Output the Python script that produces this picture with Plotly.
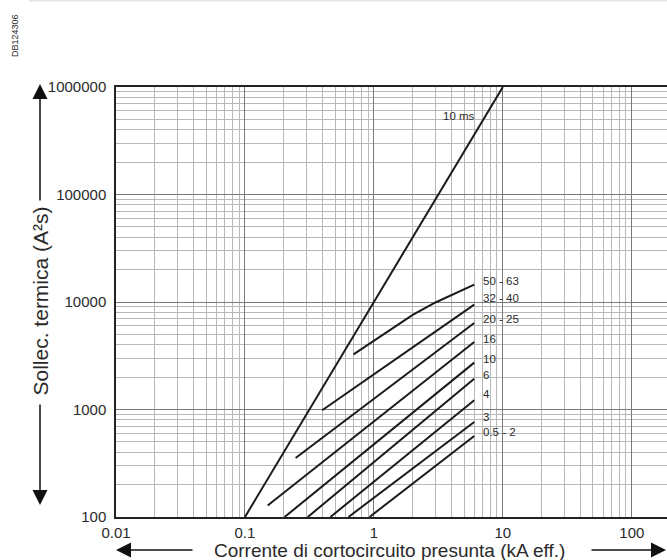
import math
import plotly.graph_objects as go

# ---------------- data ----------------
ms10_x = [0.1, 10]          # kA
ms10_y = [100, 1000000]     # A²s

rating_labels = ["0.5 - 2", "3", "4", "6", "10", "16", "20 - 25", "32 - 40", "50 - 63"]
rating_x = [
    [0.925, 6.0],
    [0.635, 6.0],
    [0.46, 6.0],
    [0.307, 6.0],
    [0.203, 6.0],
    [0.150, 6.0],
    [0.247, 6.0],
    [0.397, 6.0],
    [0.695, 1.0, 2.0, 3.0, 6.0],
]
rating_y = [
    [100, 566],
    [100, 766],
    [100, 1220],
    [100, 1935],
    [100, 2730],
    [128, 4245],
    [354, 6380],
    [984, 9460],
    [3260, 4350, 7600, 9900, 14500],
]
label_y = [618, 851, 1394, 2094, 2950, 4530, 6950, 10890, 15670]

x_ticks = [0.01, 0.1, 1, 10, 100]
x_ticktext = ["0.01", "0.1", "1", "10", "100"]
y_ticks = [100, 1000, 10000, 100000, 1000000]
y_ticktext = ["100", "1000", "10000", "100000", "1000000"]

# ---------------- layout geometry ----------------
W, H = 667, 560
ML, MR, MT, MB = 116, 0, 87, 43
PW, PH = W - ML - MR, H - MT - MB
DEC_X = 128.95
x_range = [-2, -2 + PW / DEC_X]
y_range = [2, 6]


def px_x(p):
    return (p - ML) / PW


def px_y(p):
    return (H - MB - p) / PH


minor_x = [k * 10 ** d for d in range(-2, 3) for k in range(2, 10)]
minor_y = [k * 10 ** d for d in range(2, 6) for k in range(2, 10)]

FONT = "Liberation Sans, Arial, Helvetica, sans-serif"
LINE_C = "#1a1a1a"
TEXT_C = "#2a2a2a"

fig = go.Figure()

fig.add_trace(go.Scatter(x=ms10_x, y=ms10_y, mode="lines",
                         line=dict(color=LINE_C, width=2), showlegend=False,
                         hoverinfo="skip"))
for xs, ys in zip(rating_x, rating_y):
    fig.add_trace(go.Scatter(x=xs, y=ys, mode="lines",
                             line=dict(color=LINE_C, width=2),
                             showlegend=False, hoverinfo="skip"))

annotations = []
# curve labels
for lab, ly in zip(rating_labels, label_y):
    annotations.append(dict(x=math.log10(6.8), y=math.log10(ly), xref="x", yref="y",
                            text=lab, showarrow=False, xanchor="left", yanchor="middle",
                            font=dict(family=FONT, size=11.5, color=TEXT_C)))
annotations.append(dict(x=0.7996, y=5.73, xref="x", yref="y", text="10 ms",
                        showarrow=False, xanchor="right", yanchor="middle",
                        font=dict(family=FONT, size=11.5, color=TEXT_C)))

# axis titles
annotations.append(dict(x=px_x(40), y=px_y(301.5), xref="paper", yref="paper",
                        text="Sollec. termica (A²s)", textangle=-90, showarrow=False,
                        xanchor="center", yanchor="middle",
                        font=dict(family=FONT, size=21, color=TEXT_C)))
annotations.append(dict(x=px_x(389), y=px_y(550), xref="paper", yref="paper",
                        text="Corrente di cortocircuito presunta (kA eff.)", showarrow=False,
                        xanchor="center", yanchor="middle",
                        font=dict(family=FONT, size=19, color=TEXT_C)))
annotations.append(dict(x=px_x(15), y=px_y(36), xref="paper", yref="paper",
                        text="DB124306", textangle=-90, showarrow=False,
                        xanchor="center", yanchor="middle",
                        font=dict(family=FONT, size=9, color=TEXT_C)))

# arrows
arrow_common = dict(xref="paper", yref="paper", text="", showarrow=True,
                    arrowhead=2, arrowsize=2, arrowwidth=1.5, arrowcolor="#111111",
                    axref="pixel", ayref="pixel", standoff=0, startstandoff=0)
annotations.append(dict(x=px_x(40), y=px_y(84), ax=0, ay=118, **arrow_common))
annotations.append(dict(x=px_x(40), y=px_y(505), ax=0, ay=-102, **arrow_common))
annotations.append(dict(x=px_x(116), y=px_y(550), ax=78, ay=0, **arrow_common))
annotations.append(dict(x=px_x(666), y=px_y(550), ax=-76, ay=0, **arrow_common))

shapes = [dict(type="line", xref="paper", yref="paper",
               x0=px_x(29), x1=1.0, y0=px_y(0.7), y1=px_y(0.7),
               line=dict(color="#e4e4e4", width=1.5))]

fig.update_layout(
    width=W, height=H,
    margin=dict(l=ML, r=MR, t=MT, b=MB, pad=0),
    paper_bgcolor="white", plot_bgcolor="white",
    showlegend=False,
    annotations=annotations,
    shapes=shapes,
    font=dict(family=FONT, color=TEXT_C),
    xaxis=dict(type="log", range=x_range, tickmode="array", tickvals=x_ticks,
               ticktext=x_ticktext, showgrid=True, gridcolor="#7a7a7a", gridwidth=1,
               minor=dict(tickmode="array", tickvals=minor_x, showgrid=True,
                          gridcolor="#b8b8b8", gridwidth=1, ticks=""),
               showline=True, linecolor="#222222", linewidth=1.5, mirror=True,
               ticks="", zeroline=False, tickfont=dict(family=FONT, size=15, color=TEXT_C),
               ticklabelstandoff=1, automargin=False),
    yaxis=dict(type="log", range=y_range, tickmode="array", tickvals=y_ticks,
               ticktext=y_ticktext, showgrid=True, gridcolor="#7a7a7a", gridwidth=1,
               minor=dict(tickmode="array", tickvals=minor_y, showgrid=True,
                          gridcolor="#b8b8b8", gridwidth=1, ticks=""),
               showline=True, linecolor="#222222", linewidth=1.5, mirror=False,
               ticks="", zeroline=False, tickfont=dict(family=FONT, size=15, color=TEXT_C),
               ticklabelstandoff=5, automargin=False),
)

fig.write_html("out.html", config={"displayModeBar": False},
               post_script="document.body.style.margin='0';document.body.style.overflow='hidden';")
